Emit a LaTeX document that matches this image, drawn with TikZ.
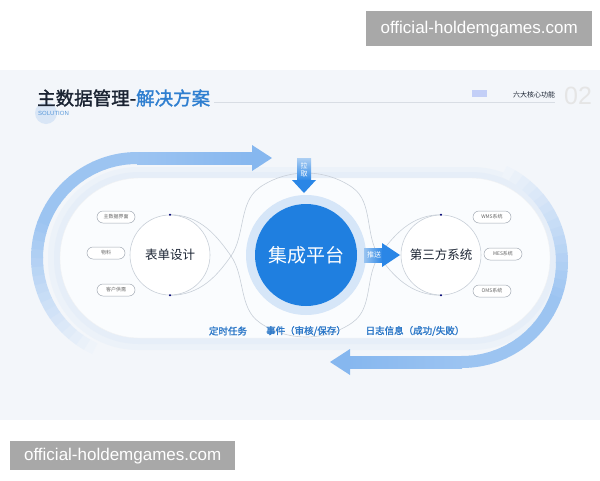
\documentclass[tikz,border=0pt]{standalone}
\usepackage{fontspec}
\newfontfamily\cjk{Noto Sans CJK SC}
\newfontfamily\cjkbf[FakeBold=1.6]{Noto Sans CJK SC}
\newfontfamily\wmfont{Liberation Sans}
\usetikzlibrary{positioning}

\definecolor{slidebg}{HTML}{F3F6FA}
\definecolor{coreblue}{HTML}{1F7FE0}
\definecolor{arrowblue}{HTML}{2A86E6}
\definecolor{bandblue}{HTML}{86B7EF}
\definecolor{bandpale}{HTML}{D9E6F6}
\definecolor{titledark}{HTML}{1B2433}
\definecolor{titleblue}{HTML}{2F7FD0}
\definecolor{labelblue}{HTML}{2D78C8}
\definecolor{linegray}{HTML}{C8CFD8}
\definecolor{pillgray}{HTML}{A3ABB5}
\definecolor{wmgray}{HTML}{A8A8A8}
\definecolor{halo}{HTML}{E6EEF8}
\definecolor{stadfill}{HTML}{FAFCFE}
\definecolor{coreglow}{HTML}{D6E6F8}

\tikzset{
  pill/.style={draw=pillgray, line width=0.5pt, rounded corners=6pt, fill=white,
    minimum width=38pt, minimum height=12pt, inner sep=0pt,
    font=\cjk\fontsize{5}{5}\selectfont, text=black!60},
  subsys/.style={circle, draw=linegray, line width=0.6pt, fill=white,
    minimum size=80pt, inner sep=0pt, font=\cjk\fontsize{12.5}{12.5}\selectfont, text=titledark},
  joint/.style={circle, fill=blue!45!black, inner sep=0pt, minimum size=2.2pt},
  thinline/.style={draw=linegray, line width=0.6pt},
  band/.style={line width=12pt},
  busline/.style={font=\cjkbf\fontsize{9.5}{9.5}\selectfont, text=labelblue},
  arrowtext/.style={font=\cjk\fontsize{7}{8}\selectfont, text=white, inner sep=0pt, align=center},
  wmark/.style={fill=wmgray, text=white, font=\wmfont\fontsize{17}{17}\selectfont,
    inner sep=0pt, anchor=north west}
}

\begin{document}
\begin{tikzpicture}[x=1pt,y=-1pt]
\useasboundingbox (0,0) rectangle (600,480);
\fill[white] (0,0) rectangle (600,480);
\fill[slidebg] (0,70) rectangle (600,420);

% header
\fill[bandpale] (46,113) circle[radius=11];
\node[anchor=west, inner sep=0pt, font=\cjkbf\fontsize{18.5}{18.5}\selectfont] (title) at (37,98)
  {\textcolor{titledark}{主数据管理-}\textcolor{titleblue}{解决方案}};
\node[anchor=west, inner sep=0pt, font=\wmfont\fontsize{6}{6}\selectfont, text=titleblue!80] (sol) at (38,113) {SOLUTION};
\coordinate (ruleend) at (555,102);
\draw[linegray!70, line width=0.6pt] ([xshift=4pt]title.east |- ruleend) -- (ruleend);
\fill[bandpale!90!blue] (472,90) rectangle (487,97);
\node[inner sep=0pt, font=\cjk\fontsize{7}{7}\selectfont, text=titledark] (six) at (534,95) {六大核心功能};
\node[inner sep=0pt, font=\wmfont\fontsize{25}{25}\selectfont, text=black!10] (num) at (578,96) {02};

% stadium shadow
\fill[halo!50!slidebg, rounded corners=90pt] (48,167) rectangle (562,350);
\fill[halo, rounded corners=85pt] (54,172) rectangle (556,344);

% circular arrows
\foreach \a in {115,120,...,265}{
  \pgfmathtruncatemacro\m{min(80,(\a-110)*0.9)}
  \draw[band, bandblue!\m!slidebg] plot[domain=\a:\a+5.4, samples=3] ({137+100*cos(\x)},{258+100*sin(\x)});
}
\shade[left color=bandblue!80!slidebg, right color=bandblue] (137,152) rectangle (254,164);
\fill[bandblue] (252,145) -- (272,158) -- (252,171) -- cycle;

\foreach \a in {-65,-60,...,85}{
  \pgfmathtruncatemacro\m{min(80,(\a+70)*0.9)}
  \draw[band, bandblue!\m!slidebg] plot[domain=\a:\a+5.4, samples=3] ({462+100*cos(\x)},{262+100*sin(\x)});
}
\shade[left color=bandblue, right color=bandblue!80!slidebg] (348,356) rectangle (462,368);
\fill[bandblue] (350,349) -- (330,362) -- (350,375) -- cycle;

% stadium
\fill[stadfill, draw=halo!80!black!20, rounded corners=79.9pt] (60,178) rectangle (550,338);

% nodes
\node[subsys] (form) at (170,255) {表单设计};
\node[subsys] (third) at (441,255) {第三方系统};
\fill[coreglow] (306,255) circle[radius=60];
\node[circle, fill=coreblue, minimum size=102pt, inner sep=0pt,
  font=\cjk\fontsize{19}{19}\selectfont, text=white] (core) at (306,255) {集成平台};

% infinity lines
\coordinate (lx) at (231,256);
\coordinate (rx) at (379,256);
\coordinate (ul) at (259,188);
\coordinate (ll) at (259,322);
\coordinate (ur) at (353,188);
\coordinate (lr) at (353,322);
\draw[thinline] plot[domain=235:305, samples=20] ({306+82*cos(\x)},{255+82*sin(\x)});
\draw[thinline] plot[domain=55:125, samples=20] ({306+82*cos(\x)},{255+82*sin(\x)});
\draw[thinline] (form.north) .. controls +(30,0) and +(-14,-20) .. (lx) .. controls +(14,20) and +(-20,-14) .. (ll);
\draw[thinline] (form.south) .. controls +(30,0) and +(-14,20) .. (lx) .. controls +(14,-20) and +(-20,14) .. (ul);
\draw[thinline] (third.north) .. controls +(-30,0) and +(14,-20) .. (rx) .. controls +(-14,20) and +(20,-14) .. (lr);
\draw[thinline] (third.south) .. controls +(-30,0) and +(14,20) .. (rx) .. controls +(-14,-20) and +(20,14) .. (ur);
\node[joint] at (form.north) {};
\node[joint] at (form.south) {};
\node[joint] at (third.north) {};
\node[joint] at (third.south) {};

% pills
\node[pill] (master) at (116,217) {主数据界面};
\node[pill] (material) at (106,253) {物料};
\node[pill] (demand) at (116,290) {客户供需};
\node[pill] (wms) at (492,217) {WMS系统};
\node[pill] (mes) at (503,254) {MES系统};
\node[pill] (oms) at (492,291) {OMS系统};

% pull / push arrows
\shade[top color=arrowblue!35!slidebg, bottom color=arrowblue] (297,158) rectangle (311,181);
\fill[arrowblue] (292,180) -- (316,180) -- (304,193) -- cycle;
\node[arrowtext] (pull) at (304,170) {拉\\取};
\shade[left color=arrowblue!45!slidebg, right color=arrowblue] (364,248) rectangle (383,262);
\fill[arrowblue] (382,243) -- (400,255) -- (382,267) -- cycle;
\node[arrowtext] (push) at (374,255) {推送};

% bottom labels
\node[busline] (timer) at (228,331) {定时任务};
\node[busline] (event) at (306,331) {事件（审核/保存）};
\node[busline] (log) at (415,331) {日志信息（成功/失败）};

% watermarks
\node[wmark, minimum width=226pt, minimum height=35pt] (wmtop) at (366,11) {official-holdemgames.com};
\node[wmark, minimum width=225pt, minimum height=29pt] (wmbot) at (10,441) {official-holdemgames.com};
\end{tikzpicture}
\end{document}
